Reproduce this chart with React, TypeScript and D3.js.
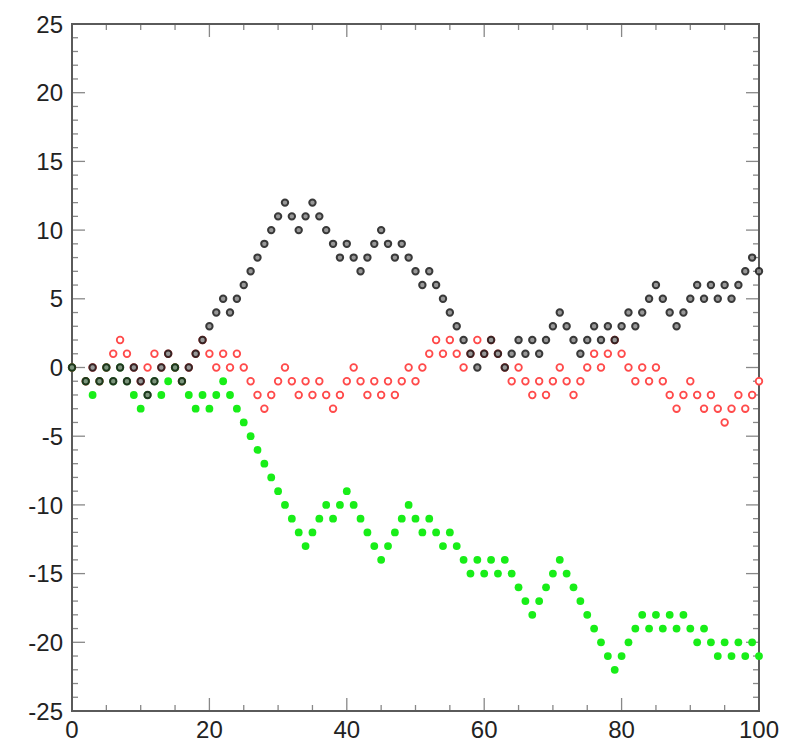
import React from 'react';
import * as d3 from 'd3';

// values at x = 0..100 (x = 1 has no marker in the reference)
const blackSeries: (number | null)[] = [
  0, null, -1, 0, -1, 0, -1, 0, -1, 0, -1, -2, -1, 0, 1, 0, -1, 0, 1, 2,
  3, 4, 5, 4, 5, 6, 7, 8, 9, 10, 11, 12, 11, 10, 11, 12, 11, 10, 9, 8,
  9, 8, 7, 8, 9, 10, 9, 8, 9, 8, 7, 6, 7, 6, 5, 4, 3, 2, 1, 0,
  1, 2, 1, 0, 1, 2, 1, 2, 1, 2, 3, 4, 3, 2, 1, 2, 3, 2, 3, 2,
  3, 4, 3, 4, 5, 6, 5, 4, 3, 4, 5, 6, 5, 6, 5, 6, 5, 6, 7, 8, 7,
];

const redSeries: (number | null)[] = [
  0, null, -1, 0, -1, 0, 1, 2, 1, 0, -1, 0, 1, 0, 1, 0, -1, 0, 1, 2,
  1, 0, 1, 0, 1, 0, -1, -2, -3, -2, -1, 0, -1, -2, -1, -2, -1, -2, -3, -2,
  -1, 0, -1, -2, -1, -2, -1, -2, -1, 0, -1, 0, 1, 2, 1, 2, 1, 0, 1, 2,
  1, 2, 1, 0, -1, 0, -1, -2, -1, -2, -1, 0, -1, -2, -1, 0, 1, 0, 1, 2,
  1, 0, -1, 0, -1, 0, -1, -2, -3, -2, -1, -2, -3, -2, -3, -4, -3, -2, -3, -2, -1,
];

const greenSeries: (number | null)[] = [
  0, null, -1, -2, -1, 0, -1, 0, -1, -2, -3, -2, -1, -2, -1, 0, -1, -2, -3, -2,
  -3, -2, -1, -2, -3, -4, -5, -6, -7, -8, -9, -10, -11, -12, -13, -12, -11, -10, -11, -10,
  -9, -10, -11, -12, -13, -14, -13, -12, -11, -10, -11, -12, -11, -12, -13, -12, -13, -14, -15, -14,
  -15, -14, -15, -14, -15, -16, -17, -18, -17, -16, -15, -14, -15, -16, -17, -18, -19, -20, -21, -22,
  -21, -20, -19, -18, -19, -18, -19, -18, -19, -18, -19, -20, -19, -20, -21, -20, -21, -20, -21, -20, -21,
];

const xTickLabels = [0, 20, 40, 60, 80, 100];
const yTickLabels = [25, 20, 15, 10, 5, 0, -5, -10, -15, -20, -25];

const W = 789;
const H = 742;
const margin = { top: 24, right: 30, bottom: 31, left: 72 };

const App = () => {
  const x = d3.scaleLinear().domain([0, 100]).range([margin.left, W - margin.right]);
  const y = d3.scaleLinear().domain([-25, 25]).range([H - margin.bottom, margin.top]);

  const toPoints = (vals: (number | null)[]) =>
    vals
      .map((v, i) => ({ i, v }))
      .filter(d => d.v !== null) as { i: number; v: number }[];

  const red = toPoints(redSeries);
  const green = toPoints(greenSeries);
  const black = toPoints(blackSeries);

  const frameColor = '#5a5a5a';
  const x0 = x(0), x1 = x(100), yTop = y(25), yBot = y(-25);

  // minor ticks
  const xTicks = d3.range(0, 101, 5);
  const yTicks = d3.range(-25, 26, 1);

  return (
    <svg
      width={W}
      height={H}
      style={{ position: 'absolute', left: 0, top: 0, background: '#fff' }}
      fontFamily="'Liberation Sans', Arial, sans-serif"
    >
      <rect x={0} y={0} width={W} height={H} fill="#fff" />

      {/* y ticks left and right */}
      {yTicks.map(t => {
        const len = t % 5 === 0 ? 13 : 6;
        return (
          <g key={'yt' + t} stroke="#888" strokeWidth={1.3}>
            <line x1={x0} x2={x0 + len} y1={y(t)} y2={y(t)} />
            <line x1={x1} x2={x1 - len} y1={y(t)} y2={y(t)} />
          </g>
        );
      })}

      {/* x ticks bottom and top */}
      {xTicks.map(t => {
        const len = t % 20 === 0 ? 13 : 6;
        return (
          <g key={'xt' + t} stroke="#888" strokeWidth={1.3}>
            <line x1={x(t)} x2={x(t)} y1={yBot} y2={yBot - len} />
            <line x1={x(t)} x2={x(t)} y1={yTop} y2={yTop + len} />
          </g>
        );
      })}

      <rect
        x={x0}
        y={yTop}
        width={x1 - x0}
        height={yBot - yTop}
        fill="none"
        stroke={frameColor}
        strokeWidth={2}
      />

      {yTickLabels.map(t => (
        <text
          key={'yl' + t}
          x={63}
          y={y(t)}
          dy="0.36em"
          textAnchor="end"
          fontSize={24}
          fill="#222"
        >
          {t}
        </text>
      ))}

      {xTickLabels.map(t => (
        <text
          key={'xl' + t}
          x={x(t)}
          y={738}
          textAnchor="middle"
          fontSize={24}
          fill="#222"
        >
          {t}
        </text>
      ))}

      {/* red open circles */}
      {red.map(d => (
        <circle
          key={'r' + d.i}
          cx={x(d.i)}
          cy={y(d.v)}
          r={3.3}
          fill="#fff"
          stroke="#ff4a4a"
          strokeWidth={1.8}
        />
      ))}

      {/* green filled dots */}
      {green.map(d => (
        <circle key={'g' + d.i} cx={x(d.i)} cy={y(d.v)} r={3.9} fill="#18ee18" />
      ))}

      {/* black/gray circles */}
      {black.map(d => (
        <circle
          key={'b' + d.i}
          cx={x(d.i)}
          cy={y(d.v)}
          r={3.2}
          fill="#8a8a8a"
          stroke="#1e1e1e"
          strokeWidth={2}
          opacity={0.88}
        />
      ))}
    </svg>
  );
};

export default App;
